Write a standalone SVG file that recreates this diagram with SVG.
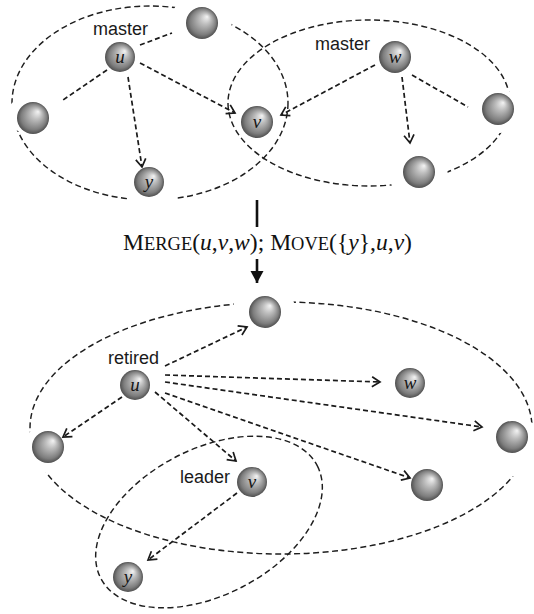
<svg xmlns="http://www.w3.org/2000/svg" width="534" height="614" viewBox="0 0 534 614">
<defs>
  <radialGradient id="sph" cx="0.5" cy="0.5" r="0.5" fx="0.66" fy="0.3">
    <stop offset="0" stop-color="#f4f4f4"/>
    <stop offset="0.35" stop-color="#bdbdbd"/>
    <stop offset="0.8" stop-color="#7e7e7e"/>
    <stop offset="1" stop-color="#505050"/>
  </radialGradient>
  <marker id="arr" markerUnits="userSpaceOnUse" markerWidth="13" markerHeight="13" refX="10" refY="6.5" orient="auto">
    <path d="M2,1.5 L10,6.5 L2,11.5" fill="none" stroke="#1a1a1a" stroke-width="1.7"/>
  </marker>
  <marker id="tri" markerUnits="userSpaceOnUse" markerWidth="14" markerHeight="14" refX="12" refY="7" orient="auto">
    <path d="M0,0.5 L12,7 L0,13.5 Z" fill="#111"/>
  </marker>
</defs>
<style>
  .grp { fill: none; stroke: #1e1e1e; stroke-width: 1.45; stroke-dasharray: 6 3.5; }
  .halo { fill: #fff; stroke: none; }
  .e { fill: none; stroke: #1a1a1a; stroke-width: 1.7; stroke-dasharray: 5 3; }
  .ea { fill: none; stroke: #1a1a1a; stroke-width: 1.7; stroke-dasharray: 5 3; marker-end: url(#arr); }
  .ball { fill: url(#sph); }
  .nl { font-family: "Liberation Serif", "Times New Roman", serif; font-style: italic; font-size: 19px; fill: #151515; text-anchor: middle; }
  .lab { font-family: "Liberation Sans", Arial, sans-serif; font-size: 18px; fill: #1a1a1a; }
  .op { font-family: "Liberation Serif", "Times New Roman", serif; fill: #111; }
</style>
<rect width="534" height="614" fill="#fff"/>

<g id="groups">
  <ellipse class="grp" cx="150" cy="103" rx="138" ry="97"/>
  <ellipse class="grp" cx="369" cy="103" rx="141" ry="83"/>
  <ellipse class="grp" cx="281" cy="428" rx="251" ry="126"/>
  <ellipse class="grp" cx="209" cy="522" rx="122" ry="73" transform="rotate(-27.5 209 522)"/>
</g>
<g id="halos">
  <circle class="halo" cx="202" cy="20" r="30"/>
  <circle class="halo" cx="24" cy="115" r="17"/>
  <circle class="halo" cx="153" cy="188" r="26"/>
  <circle class="halo" cx="500" cy="111" r="22"/>
  <circle class="halo" cx="419" cy="176" r="29"/>
  <circle class="halo" cx="264" cy="310" r="31"/>
  <circle class="halo" cx="44" cy="450" r="23"/>
  <circle class="halo" cx="518" cy="448" r="29"/>
</g>

<g id="connectors">
  <line class="e" x1="140" y1="45" x2="172" y2="33"/>
  <line class="e" x1="107" y1="70" x2="63" y2="100"/>
  <line class="ea" x1="140" y1="63" x2="235" y2="113"/>
  <line class="ea" x1="128" y1="77" x2="142" y2="167"/>
  <line class="ea" x1="375" y1="65" x2="281" y2="115"/>
  <line class="ea" x1="402" y1="77" x2="410" y2="143"/>
  <line class="e" x1="412" y1="75" x2="468" y2="107"/>
  <line x1="257" y1="200" x2="257" y2="227" stroke="#111" stroke-width="2.6"/>
  <line x1="257" y1="259" x2="257" y2="283" stroke="#111" stroke-width="2.6" marker-end="url(#tri)"/>
  <line class="ea" x1="165" y1="366" x2="247" y2="327"/>
  <line class="ea" x1="165" y1="375" x2="380" y2="382"/>
  <line class="ea" x1="165" y1="382" x2="482" y2="427"/>
  <line class="ea" x1="165" y1="393" x2="410" y2="478"/>
  <line class="ea" x1="155" y1="392" x2="236" y2="461"/>
  <line class="ea" x1="122" y1="397" x2="63" y2="437"/>
  <line class="ea" x1="237" y1="493" x2="148" y2="560"/>
</g>

<g id="n_top_u"><circle class="ball" cx="120" cy="57" r="15"/><text class="nl" x="120" y="63">u</text></g>
<g id="n_top_a"><circle class="ball" cx="202" cy="23" r="16"/></g>
<g id="n_top_b"><circle class="ball" cx="33" cy="118" r="16"/></g>
<g id="n_top_y"><circle class="ball" cx="149" cy="182" r="15"/><text class="nl" x="149" y="188">y</text></g>
<g id="n_top_v"><circle class="ball" cx="257" cy="122" r="16"/><text class="nl" x="257" y="128">v</text></g>
<g id="n_top_w"><circle class="ball" cx="395" cy="57" r="16"/><text class="nl" x="395" y="63">w</text></g>
<g id="n_top_c"><circle class="ball" cx="498" cy="109" r="16"/></g>
<g id="n_top_d"><circle class="ball" cx="419" cy="172" r="16"/></g>

<g id="lab_master1"><text class="lab" x="93" y="35">master</text></g>
<g id="lab_master2"><text class="lab" x="315" y="50">master</text></g>

<g id="op">
  <text class="op" x="123" y="250" font-size="23" textLength="289" lengthAdjust="spacingAndGlyphs">M<tspan font-size="18">ERGE</tspan>(<tspan font-style="italic">u</tspan>,<tspan font-style="italic">v</tspan>,<tspan font-style="italic">w</tspan>); M<tspan font-size="18">OVE</tspan>({<tspan font-style="italic">y</tspan>},<tspan font-style="italic">u</tspan>,<tspan font-style="italic">v</tspan>)</text>
</g>

<g id="n_bot_a"><circle class="ball" cx="265" cy="312" r="16"/></g>
<g id="n_bot_u"><circle class="ball" cx="135" cy="385" r="15"/><text class="nl" x="135" y="391">u</text></g>
<g id="n_bot_b"><circle class="ball" cx="48" cy="447" r="16"/></g>
<g id="n_bot_w"><circle class="ball" cx="410" cy="383" r="15"/><text class="nl" x="410" y="389">w</text></g>
<g id="n_bot_c"><circle class="ball" cx="512" cy="437" r="16"/></g>
<g id="n_bot_d"><circle class="ball" cx="427" cy="485" r="16"/></g>
<g id="n_bot_v"><circle class="ball" cx="252" cy="482" r="15"/><text class="nl" x="252" y="488">v</text></g>
<g id="n_bot_y"><circle class="ball" cx="128" cy="577" r="15"/><text class="nl" x="128" y="583">y</text></g>

<g id="lab_retired"><text class="lab" x="108" y="364">retired</text></g>
<g id="lab_leader"><text class="lab" x="180" y="483">leader</text></g>
</svg>
